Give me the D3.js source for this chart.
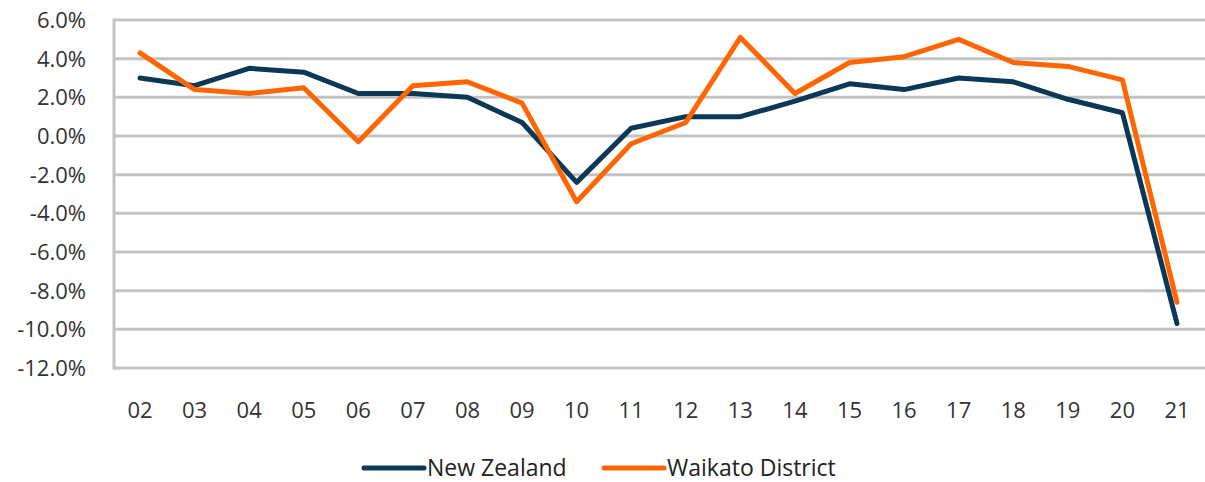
<!DOCTYPE html>
<html><head><meta charset="utf-8">
<script src="https://cdn.jsdelivr.net/npm/d3@7"></script>
<style>body{margin:0;background:#fff}svg{display:block}</style>
</head><body>
<svg id="c" width="1205" height="482"></svg>
<script>
const categories = ["02","03","04","05","06","07","08","09","10","11","12","13","14","15","16","17","18","19","20","21"];
const newZealand = [3.0,2.6,3.5,3.3,2.2,2.2,2.0,0.7,-2.4,0.4,1.0,1.0,1.8,2.7,2.4,3.0,2.8,1.9,1.2,-9.7];
const waikato = [4.3,2.4,2.2,2.5,-0.3,2.6,2.8,1.7,-3.4,-0.4,0.7,5.1,2.2,3.8,4.1,5.0,3.8,3.6,2.9,-8.6];
const yTicks = [6,4,2,0,-2,-4,-6,-8,-10,-12];
const seriesNames = ["New Zealand","Waikato District"];

const svg = d3.select("#c");
const font = "'Segoe UI','Open Sans','Noto Sans',sans-serif";
const x = d3.scalePoint().domain(categories).range([140,1177]);
const y = d3.scaleLinear().domain([-12,6]).range([368,20]);

svg.append("g").selectAll("line").data(yTicks).join("line")
  .attr("x1",114).attr("x2",1205).attr("y1",d=>y(d)).attr("y2",d=>y(d))
  .attr("stroke","#c3c3c3").attr("stroke-width",3);
svg.append("line").attr("x1",114).attr("x2",114).attr("y1",y(6)-1.5).attr("y2",y(-12)+1.5)
  .attr("stroke","#c3c3c3").attr("stroke-width",3);

const fmt = d => (d<0?"-":"") + Math.abs(d).toFixed(1) + "%";
svg.append("g").selectAll("text").data(yTicks).join("text")
  .attr("x",86).attr("y",d=>y(d)).attr("dy","0.36em").attr("text-anchor","end")
  .attr("font-family",font).attr("font-size",22).attr("fill","#333")
  .text(fmt);
svg.append("g").selectAll("text").data(categories).join("text")
  .attr("x",d=>x(d)).attr("y",418).attr("text-anchor","middle")
  .attr("font-family",font).attr("font-size",22).attr("fill","#333")
  .text(d=>d);

const line = d3.line().x((d,i)=>x(categories[i])).y(d=>y(d));
const colors = ["#0b3856","#ff6600"];
[newZealand, waikato].forEach((s,k)=>{
  svg.append("path").datum(s).attr("d",line).attr("fill","none")
    .attr("stroke",colors[k]).attr("stroke-width",5).attr("stroke-linejoin","round").attr("stroke-linecap","round");
});

const lx = [364, 604];
seriesNames.forEach((n,k)=>{
  svg.append("line").attr("x1",lx[k]).attr("x2",lx[k]+60).attr("y1",468).attr("y2",468)
    .attr("stroke",colors[k]).attr("stroke-width",5).attr("stroke-linecap","round");
  svg.append("text").attr("x",lx[k]+63).attr("y",476).attr("font-family",font).attr("font-size",23)
    .attr("fill","#222").text(n);
});
</script>
</body></html>
